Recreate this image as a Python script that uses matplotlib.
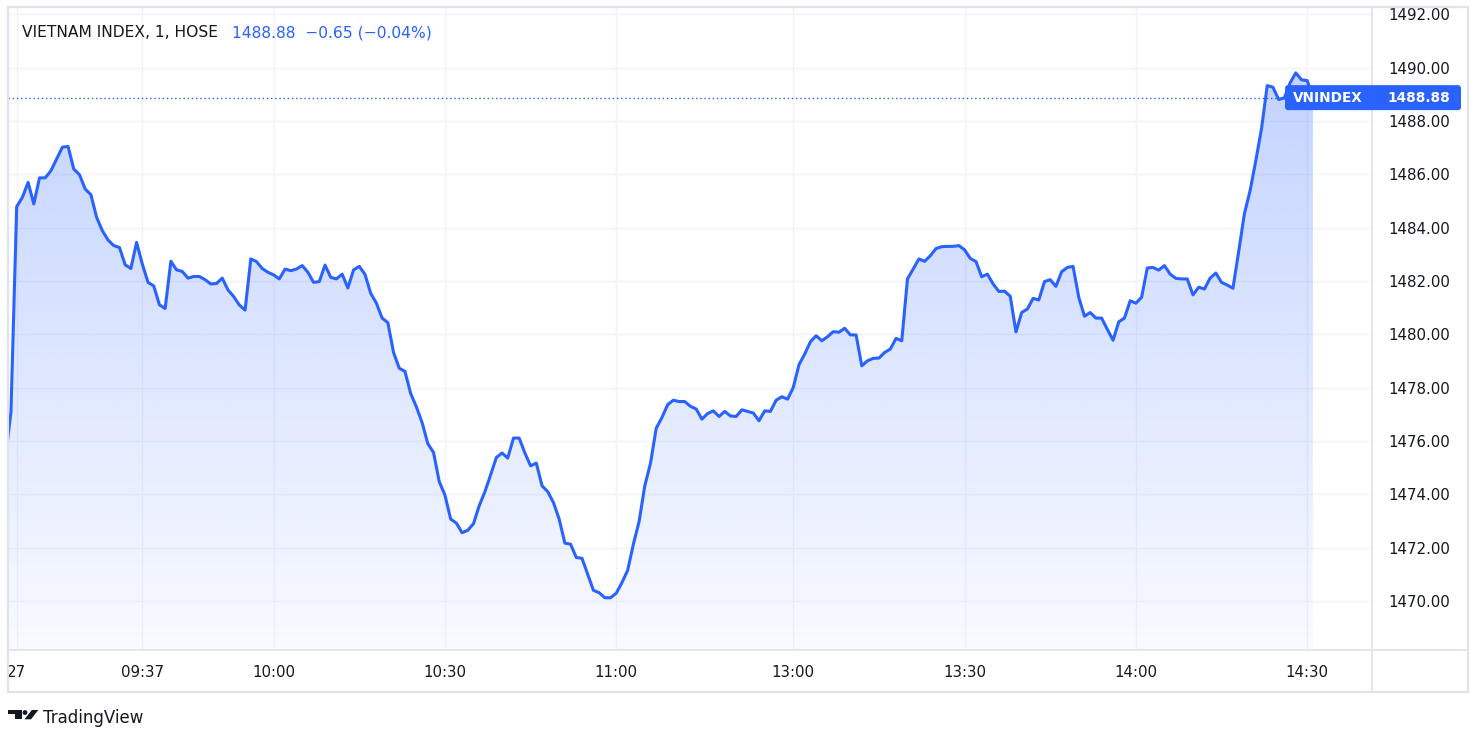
import numpy as np
import pandas as pd
import matplotlib
matplotlib.use("Agg")
import matplotlib.pyplot as plt
from matplotlib.patches import FancyBboxPatch, Rectangle, Circle, Polygon
from matplotlib.lines import Line2D

W, H = 1483, 745

# 1-minute closes of VN-Index
prev_day = [1475.3, 1477.1]  # last bars of the previous session

morning = [  # 09:15 - 11:30
    1484.79, 1485.14, 1485.70, 1484.89, 1485.87, 1485.87, 1486.14, 1486.58, 1487.02, 1487.05,
    1486.20, 1485.99, 1485.45, 1485.24, 1484.39, 1483.89, 1483.54, 1483.33, 1483.26, 1482.61,
    1482.47, 1483.45, 1482.64, 1481.95, 1481.82, 1481.11, 1480.97, 1482.74, 1482.42, 1482.36,
    1482.11, 1482.17, 1482.17, 1482.05, 1481.89, 1481.91, 1482.11, 1481.67, 1481.42, 1481.10,
    1480.91, 1482.83, 1482.73, 1482.47, 1482.33, 1482.23, 1482.08, 1482.45, 1482.39, 1482.45,
    1482.58, 1482.33, 1481.95, 1481.98, 1482.60, 1482.14, 1482.08, 1482.26, 1481.74, 1482.42,
    1482.55, 1482.25, 1481.54, 1481.17, 1480.61, 1480.44, 1479.32, 1478.73, 1478.61, 1477.78,
    1477.28, 1476.69, 1475.90, 1475.57, 1474.48, 1473.97, 1473.07, 1472.92, 1472.56, 1472.65,
    1472.90, 1473.57, 1474.10, 1474.73, 1475.38, 1475.55, 1475.36, 1476.11, 1476.11, 1475.55,
    1475.07, 1475.17, 1474.32, 1474.10, 1473.69, 1473.07, 1472.17, 1472.13, 1471.63, 1471.60,
    1471.00, 1470.40, 1470.31, 1470.12, 1470.12, 1470.29, 1470.69, 1471.15, 1472.13, 1472.98,
    1474.32, 1475.17, 1476.48, 1476.88, 1477.36, 1477.53, 1477.48, 1477.48, 1477.30, 1477.20,
    1476.82, 1477.03, 1477.13, 1476.92, 1477.11, 1476.94, 1476.92, 1477.17, 1477.11, 1477.05,
    1476.76, 1477.13, 1477.11, 1477.53, 1477.66, 1477.57,
]

afternoon = [  # 13:00 - 14:30
    1478.01, 1478.86, 1479.26, 1479.72, 1479.95, 1479.76, 1479.91, 1480.10, 1480.08, 1480.23,
    1479.98, 1479.98, 1478.82, 1479.01, 1479.10, 1479.11, 1479.32, 1479.45, 1479.85, 1479.76,
    1482.08, 1482.45, 1482.83, 1482.74, 1482.95, 1483.22, 1483.29, 1483.30, 1483.30, 1483.33,
    1483.17, 1482.85, 1482.73, 1482.16, 1482.26, 1481.89, 1481.61, 1481.62, 1481.43, 1480.09,
    1480.82, 1480.95, 1481.35, 1481.29, 1481.98, 1482.05, 1481.80, 1482.35, 1482.51, 1482.55,
    1481.39, 1480.68, 1480.82, 1480.61, 1480.61, 1480.19, 1479.78, 1480.47, 1480.61, 1481.26,
    1481.17, 1481.39, 1482.49, 1482.51, 1482.41, 1482.58, 1482.26, 1482.10, 1482.08, 1482.08,
    1481.48, 1481.77, 1481.70, 1482.11, 1482.30, 1481.95, 1481.85, 1481.73, 1483.10, 1484.52,
    1485.39, 1486.52, 1487.71, 1489.33, 1489.27, 1488.81, 1488.87, 1489.43, 1489.81, 1489.55,
    1489.52,
]

atc = [1488.88]  # 14:45 closing auction

tick_times = ["09:15", "09:37", "10:00", "10:30", "11:00", "13:00", "13:30", "14:00", "14:30"]
tick_labels = ["27", "09:37", "10:00", "10:30", "11:00", "13:00", "13:30", "14:00", "14:30"]
price_ticks = [1470, 1472, 1474, 1476, 1478, 1480, 1482, 1484, 1486, 1488, 1490, 1492]

title = "VIETNAM INDEX, 1, HOSE"
symbol = "VNINDEX"
last_price = 1488.88
change = -0.65
change_pct = -0.04

BLUE = "#2962FF"
TEXT = "#131722"
GRID = "#f0f3fa"
BORDER = "#e0e3eb"

# bar times: sessions are glued together like on TradingView
times = (list(pd.date_range("09:15", "11:30", freq="min").strftime("%H:%M"))
         + list(pd.date_range("13:00", "14:30", freq="min").strftime("%H:%M"))
         + ["14:45"])
values = np.array(prev_day + morning + afternoon + atc)
x = np.arange(-len(prev_day), len(times))
tick_pos = [times.index(t) for t in tick_times]

fig = plt.figure(figsize=(W / 100, H / 100), dpi=100)
fig.patch.set_facecolor("white")

# main chart pane (pixels: x 8..1372, y 7..650)
ax = fig.add_axes([8 / W, 1 - 650 / H, (1372 - 8) / W, (650 - 7) / H])
ylo, yhi = 1468.16, 1492.28

# gradient area fill under the line
grad = np.zeros((256, 1, 4))
grad[..., 0] = 41 / 255
grad[..., 1] = 98 / 255
grad[..., 2] = 1.0
grad[..., 3] = np.linspace(0.03, 0.28, 256)[:, None]
im = ax.imshow(grad, extent=[x[0], x[-1], ylo, values.max()], origin="lower",
               aspect="auto", zorder=1, interpolation="bilinear")
area = ax.fill_between(x, values, ylo, color="none", lw=0)
im.set_clip_path(area.get_paths()[0], transform=ax.transData)

ax.plot(x, values, color=BLUE, lw=2.2, zorder=3)
ax.axhline(last_price, color=BLUE, lw=1, ls=(0, (1, 2)), zorder=2)

ax.set_xlim(-1.52, 237.35)
ax.set_ylim(ylo, yhi)
ax.set_xticks(tick_pos)
ax.set_xticklabels(tick_labels)
ax.set_yticks(price_ticks)
ax.set_yticklabels([f"{p:.2f}" for p in price_ticks])
ax.yaxis.tick_right()
ax.tick_params(axis="both", length=0, labelsize=10.8, colors=TEXT)
ax.tick_params(axis="y", pad=11.5)
ax.tick_params(axis="x", pad=10.5)
ax.grid(True, color=GRID, lw=1, zorder=0)
ax.set_axisbelow(True)
for s in ax.spines.values():
    s.set_visible(False)

# overlay in pixel coordinates for frame, legend text, price label and logo
ov = fig.add_axes([0, 0, 1, 1])
ov.set_xlim(0, W)
ov.set_ylim(H, 0)
ov.axis("off")

ov.add_patch(Rectangle((8, 7), 1460, 685, fill=False, ec=BORDER, lw=1.6, zorder=1))
ov.add_line(Line2D([1372, 1372], [7, 692], color=BORDER, lw=1.3, zorder=1))
ov.add_line(Line2D([8, 1468], [650, 650], color=BORDER, lw=1.3, zorder=1))

ov.text(21.7, 37.3, title, fontsize=11.2, color=TEXT, va="baseline")
ov.text(231.7, 37.3,
        f"{last_price:.2f}  \u2212{abs(change):.2f} (\u2212{abs(change_pct):.2f}%)",
        fontsize=11.2, color=BLUE, va="baseline")

# last price label on the price scale
py = H - ax.transData.transform((0, last_price))[1]
ov.add_patch(FancyBboxPatch((1285, py - 12.5), 176, 25,
                            boxstyle="round,pad=0,rounding_size=3",
                            fc=BLUE, ec="none", zorder=5))
ov.text(1293.3, py, symbol, fontsize=9.8, color="white", weight="bold",
        va="center", zorder=6)
ov.text(1450, py, f"{last_price:.2f}", fontsize=9.8, color="white", weight="bold",
        va="center", ha="right", zorder=6)

# TradingView logo
ov.add_patch(Rectangle((8.3, 710), 13.4, 4.3, fc=TEXT, ec="none"))
ov.add_patch(Rectangle((15, 710), 6.7, 9.3, fc=TEXT, ec="none"))
ov.add_patch(Circle((25, 712.5), 2.4, fc=TEXT, ec="none"))
ov.add_patch(Polygon([(24.5, 719.3), (31, 719.3), (38.3, 710), (31.8, 710)],
                     closed=True, fc=TEXT, ec="none"))
ov.text(43.3, 722.8, "TradingView", fontsize=12, color=TEXT, va="baseline")

plt.savefig("out.png", dpi=100)
